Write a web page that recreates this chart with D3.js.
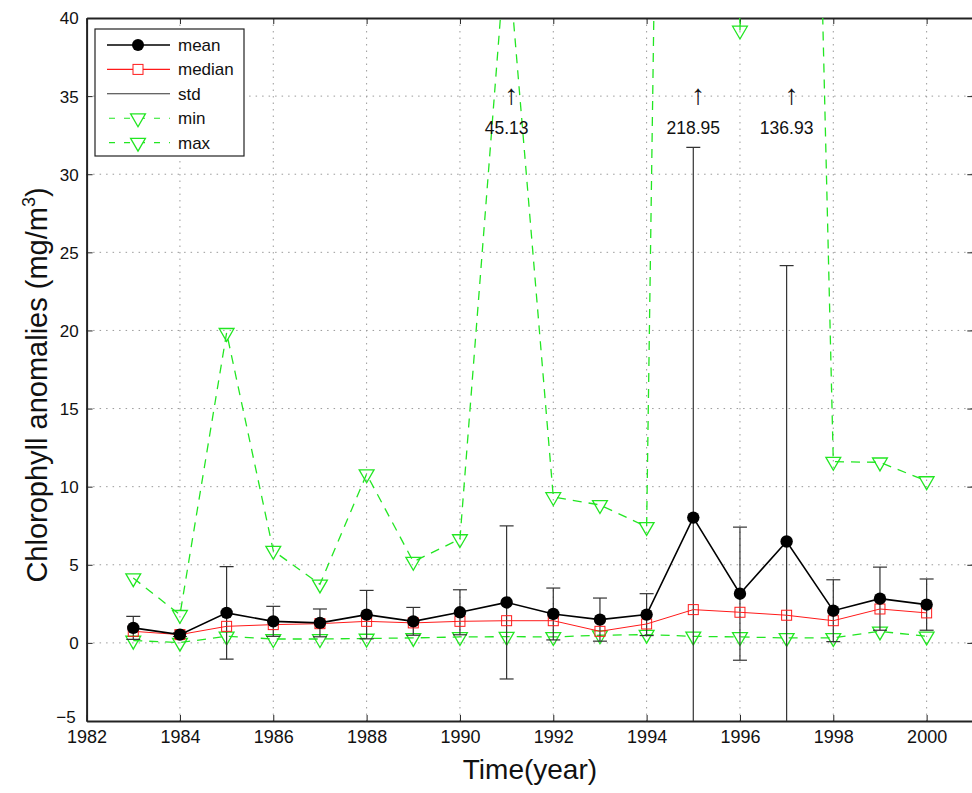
<!DOCTYPE html>
<html>
<head>
<meta charset="utf-8">
<script src="https://cdn.jsdelivr.net/npm/d3@7"></script>
<style>
  html, body { margin: 0; padding: 0; background: #fff; }
  svg { display: block; }
  text { font-family: "Liberation Sans", Arial, sans-serif; fill: #111; }
</style>
</head>
<body>
<svg id="chart" width="972" height="793"></svg>
<script>
// Yearly chlorophyll anomaly statistics
const years = [1983,1984,1985,1986,1987,1988,1989,1990,1991,1992,1993,1994,1995,1996,1997,1998,1999,2000];
const meanVals   = [0.96,0.53,1.92,1.38,1.28,1.81,1.38,1.96,2.59,1.85,1.49,1.81,8.02,3.15,6.49,2.06,2.83,2.45];
const medianVals = [0.74,0.53,1.06,1.17,1.23,1.38,1.28,1.38,1.42,1.42,0.74,1.21,2.13,1.96,1.77,1.42,2.17,1.92];
const stdVals    = [0.74,0.12,2.96,0.96,0.89,1.55,0.89,1.44,4.90,1.66,1.38,1.34,23.70,4.26,17.66,1.98,2.02,1.64];
const minVals    = [0.15,0.02,0.42,0.25,0.25,0.28,0.32,0.38,0.40,0.38,0.49,0.53,0.42,0.38,0.32,0.32,0.74,0.42];
const maxVals    = [4.15,1.80,19.85,5.90,3.75,10.80,5.20,6.65,45.13,9.34,8.83,7.43,218.95,39.20,136.93,11.60,11.56,10.36];

const xTicks = [1982,1984,1986,1988,1990,1992,1994,1996,1998,2000];
const yTicks = [-5,0,5,10,15,20,25,30,35,40];

const rows = years.map((yr, i) => ({
  year: yr, mean: meanVals[i], median: medianVals[i], std: stdVals[i],
  min: minVals[i], max: maxVals[i]
}));

const svg = d3.select("#chart");
const pLeft = 86.6, pRight = 973.3, pTop = 18, pBottom = 721;
const x = d3.scaleLinear().domain([1982, 2001]).range([pLeft, pRight]);
const y = d3.scaleLinear().domain([-5, 40]).range([pBottom, pTop]);

const GREEN = "#22e622", RED = "#ff1a1a";

svg.append("defs").append("clipPath").attr("id", "plotclip")
  .append("rect").attr("x", pLeft).attr("y", pTop)
  .attr("width", pRight - pLeft).attr("height", pBottom - pTop);

// dotted grid
const grid = svg.append("g").attr("stroke", "#9a9a9a").attr("stroke-width", 1)
  .attr("stroke-dasharray", "1.5,5");
grid.selectAll(".gx").data(xTicks.filter(t => t > 1982)).join("line")
  .attr("x1", d => x(d)).attr("x2", d => x(d)).attr("y1", pTop).attr("y2", pBottom);
grid.selectAll(".gy").data(yTicks.filter(t => t > -5 && t < 40)).join("line")
  .attr("x1", pLeft).attr("x2", pRight).attr("y1", d => y(d)).attr("y2", d => y(d));

// axes (ticks pointing inward on every side)
const tick = 6;
const axB = svg.append("g").attr("transform", `translate(0,${pBottom})`)
  .call(d3.axisBottom(x).tickValues(xTicks).tickFormat(d3.format("d")).tickSizeInner(-tick).tickSizeOuter(0).tickPadding(9));
const axT = svg.append("g").attr("transform", `translate(0,${pTop})`)
  .call(d3.axisTop(x).tickValues(xTicks).tickFormat("").tickSizeInner(-tick).tickSizeOuter(0));
const axL = svg.append("g").attr("transform", `translate(${pLeft},0)`)
  .call(d3.axisLeft(y).tickValues(yTicks).tickFormat(d => d < 0 ? "\u2212" + Math.abs(d) : d).tickSizeInner(-tick).tickSizeOuter(0).tickPadding(8));
const axR = svg.append("g").attr("transform", `translate(${pRight},0)`)
  .call(d3.axisRight(y).tickValues(yTicks).tickFormat("").tickSizeInner(-tick).tickSizeOuter(0));
[axB, axT, axL, axR].forEach(a => {
  a.select(".domain").attr("stroke", "#222").attr("stroke-width", 2);
  a.selectAll(".tick line").attr("stroke", "#222").attr("stroke-width", 1);
});
axB.selectAll("text").attr("fill", "#111").style("font-size", "18px");
axL.selectAll("text").attr("fill", "#111").style("font-size", "17px").attr("dy", "0.35em");
axL.selectAll(".tick").filter(d => d === -5).select("text").attr("dy", "0.1em").attr("dx", "-3");

const plot = svg.append("g").attr("clip-path", "url(#plotclip)");

// max and min: green dashed lines with down-triangle markers
const tri = d3.symbol().type(d3.symbolTriangle).size(95);
function greenSeries(key) {
  plot.append("path").datum(rows)
    .attr("fill", "none").attr("stroke", GREEN).attr("stroke-width", 1.3)
    .attr("stroke-dasharray", "9,7")
    .attr("d", d3.line().x(d => x(d.year)).y(d => y(d[key])));
  plot.selectAll(".tri-" + key).data(rows).join("path")
    .attr("transform", d => `translate(${x(d.year)},${y(d[key])}) rotate(180)`)
    .attr("d", tri).attr("fill", "none").attr("stroke", GREEN).attr("stroke-width", 1.3);
}
greenSeries("max");
greenSeries("min");

// std error bars around the mean
const cap = 7;
const eb = plot.append("g").attr("stroke", "#333").attr("stroke-width", 1.2);
eb.selectAll(".v").data(rows).join("line")
  .attr("x1", d => x(d.year)).attr("x2", d => x(d.year))
  .attr("y1", d => y(d.mean - d.std)).attr("y2", d => y(d.mean + d.std));
eb.selectAll(".ct").data(rows).join("line")
  .attr("x1", d => x(d.year) - cap).attr("x2", d => x(d.year) + cap)
  .attr("y1", d => y(d.mean + d.std)).attr("y2", d => y(d.mean + d.std));
eb.selectAll(".cb").data(rows).join("line")
  .attr("x1", d => x(d.year) - cap).attr("x2", d => x(d.year) + cap)
  .attr("y1", d => y(d.mean - d.std)).attr("y2", d => y(d.mean - d.std));

// median: red line with open squares
plot.append("path").datum(rows)
  .attr("fill", "none").attr("stroke", RED).attr("stroke-width", 1)
  .attr("d", d3.line().x(d => x(d.year)).y(d => y(d.median)));
plot.selectAll(".sq").data(rows).join("rect")
  .attr("x", d => x(d.year) - 5).attr("y", d => y(d.median) - 5)
  .attr("width", 10).attr("height", 10)
  .attr("fill", "none").attr("stroke", RED).attr("stroke-width", 1);

// mean: black line with filled dots
plot.append("path").datum(rows)
  .attr("fill", "none").attr("stroke", "#000").attr("stroke-width", 1.6)
  .attr("d", d3.line().x(d => x(d.year)).y(d => y(d.mean)));
plot.selectAll(".dot").data(rows).join("circle")
  .attr("cx", d => x(d.year)).attr("cy", d => y(d.mean)).attr("r", 6.2)
  .attr("fill", "#000");

// values of maxima that fall above the axis
const offTop = rows.filter(d => d.max > 40);
svg.selectAll(".arrow").data(offTop).join("text")
  .attr("x", d => x(d.year) + 5).attr("y", 104)
  .attr("text-anchor", "middle").style("font-size", "28px")
  .attr("font-family", "'Liberation Sans', sans-serif")
  .text("\u2191");
svg.selectAll(".maxlab").data(offTop).join("text")
  .attr("x", d => x(d.year)).attr("y", 134)
  .attr("text-anchor", "middle").style("font-size", "17.5px")
  .text(d => d.max.toFixed(2));

// legend
const lg = svg.append("g");
lg.append("rect").attr("x", 95).attr("y", 29).attr("width", 149).attr("height", 127)
  .attr("fill", "#fff").attr("stroke", "#222").attr("stroke-width", 1.2);
const entries = [
  { name: "mean", color: "#000", dash: null, mark: "dot" },
  { name: "median", color: RED, dash: null, mark: "square" },
  { name: "std", color: "#333", dash: null, mark: null },
  { name: "min", color: GREEN, dash: "9,7", mark: "tri" },
  { name: "max", color: GREEN, dash: "9,7", mark: "tri" }
];
entries.forEach((e, i) => {
  const cy = 45 + i * 24.4;
  lg.append("line").attr("x1", 107).attr("x2", 170).attr("y1", cy).attr("y2", cy)
    .attr("stroke", e.color).attr("stroke-width", e.name === "mean" ? 1.6 : 1.1)
    .attr("stroke-dasharray", e.dash ? "6,9" : null)
    .attr("stroke-dashoffset", e.dash ? -2 : null);
  if (e.mark === "dot") lg.append("circle").attr("cx", 138).attr("cy", cy).attr("r", 6).attr("fill", "#000");
  if (e.mark === "square") lg.append("rect").attr("x", 133).attr("y", cy - 5).attr("width", 10).attr("height", 10)
    .attr("fill", "#fff").attr("stroke", RED);
  if (e.mark === "tri") lg.append("path").attr("d", tri)
    .attr("transform", `translate(138,${cy}) rotate(180)`)
    .attr("fill", "#fff").attr("stroke", GREEN).attr("stroke-width", 1.3);
  lg.append("text").attr("x", 178).attr("y", cy).attr("dy", "0.35em")
    .style("font-size", "17px").text(e.name);
});

// axis titles
svg.append("text").attr("x", x(1991.5)).attr("y", 779)
  .attr("text-anchor", "middle").style("font-size", "28px")
  .text("Time(year)");
const yt = svg.append("text")
  .attr("transform", "translate(47,385) rotate(-90)")
  .attr("text-anchor", "middle").style("font-size", "29px");
yt.append("tspan").text("Chlorophyll anomalies (mg/m");
yt.append("tspan").attr("dy", -12).style("font-size", "18px").text("3");
yt.append("tspan").attr("dy", 12).text(")");
</script>
</body>
</html>
